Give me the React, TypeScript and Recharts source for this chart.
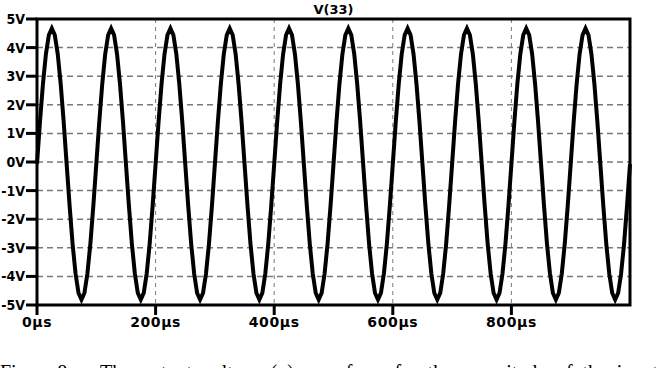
import React from 'react';
import { LineChart, Line, XAxis, YAxis, CartesianGrid, ReferenceArea } from 'recharts';

const title = 'V(33)';
const captionLead = 'Figure 8:';
const captionRest = 'The output voltage (v) waveform for the magnitude of the input';

const timeUs = [
  0, 5, 10, 15, 20, 25, 30, 35, 40, 45, 50, 55, 60, 65, 70, 75, 80, 85, 90, 95,
  100, 105, 110, 115, 120, 125, 130, 135, 140, 145, 150, 155, 160, 165, 170, 175, 180, 185, 190, 195,
  200, 205, 210, 215, 220, 225, 230, 235, 240, 245, 250, 255, 260, 265, 270, 275, 280, 285, 290, 295,
  300, 305, 310, 315, 320, 325, 330, 335, 340, 345, 350, 355, 360, 365, 370, 375, 380, 385, 390, 395,
  400, 405, 410, 415, 420, 425, 430, 435, 440, 445, 450, 455, 460, 465, 470, 475, 480, 485, 490, 495,
  500, 505, 510, 515, 520, 525, 530, 535, 540, 545, 550, 555, 560, 565, 570, 575, 580, 585, 590, 595,
  600, 605, 610, 615, 620, 625, 630, 635, 640, 645, 650, 655, 660, 665, 670, 675, 680, 685, 690, 695,
  700, 705, 710, 715, 720, 725, 730, 735, 740, 745, 750, 755, 760, 765, 770, 775, 780, 785, 790, 795,
  800, 805, 810, 815, 820, 825, 830, 835, 840, 845, 850, 855, 860, 865, 870, 875, 880, 885, 890, 895,
  900, 905, 910, 915, 920, 925, 930, 935, 940, 945, 950, 955, 960, 965, 970, 975, 980, 985, 990, 995,
  1000,
];

const voltsV = [
  -0.07, 1.40, 2.72, 3.77, 4.44, 4.67, 4.44, 3.77, 2.72, 1.40, -0.07, -1.53, -2.86, -3.90, -4.58, -4.81, -4.58, -3.90, -2.86, -1.53,
  -0.07, 1.40, 2.72, 3.77, 4.44, 4.67, 4.44, 3.77, 2.72, 1.40, -0.07, -1.53, -2.86, -3.90, -4.58, -4.81, -4.58, -3.90, -2.86, -1.53,
  -0.07, 1.40, 2.72, 3.77, 4.44, 4.67, 4.44, 3.77, 2.72, 1.40, -0.07, -1.53, -2.86, -3.90, -4.58, -4.81, -4.58, -3.90, -2.86, -1.53,
  -0.07, 1.40, 2.72, 3.77, 4.44, 4.67, 4.44, 3.77, 2.72, 1.40, -0.07, -1.53, -2.86, -3.90, -4.58, -4.81, -4.58, -3.90, -2.86, -1.53,
  -0.07, 1.40, 2.72, 3.77, 4.44, 4.67, 4.44, 3.77, 2.72, 1.40, -0.07, -1.53, -2.86, -3.90, -4.58, -4.81, -4.58, -3.90, -2.86, -1.53,
  -0.07, 1.40, 2.72, 3.77, 4.44, 4.67, 4.44, 3.77, 2.72, 1.40, -0.07, -1.53, -2.86, -3.90, -4.58, -4.81, -4.58, -3.90, -2.86, -1.53,
  -0.07, 1.40, 2.72, 3.77, 4.44, 4.67, 4.44, 3.77, 2.72, 1.40, -0.07, -1.53, -2.86, -3.90, -4.58, -4.81, -4.58, -3.90, -2.86, -1.53,
  -0.07, 1.40, 2.72, 3.77, 4.44, 4.67, 4.44, 3.77, 2.72, 1.40, -0.07, -1.53, -2.86, -3.90, -4.58, -4.81, -4.58, -3.90, -2.86, -1.53,
  -0.07, 1.40, 2.72, 3.77, 4.44, 4.67, 4.44, 3.77, 2.72, 1.40, -0.07, -1.53, -2.86, -3.90, -4.58, -4.81, -4.58, -3.90, -2.86, -1.53,
  -0.07, 1.40, 2.72, 3.77, 4.44, 4.67, 4.44, 3.77, 2.72, 1.40, -0.07, -1.53, -2.86, -3.90, -4.58, -4.81, -4.58, -3.90, -2.86, -1.53,
  -0.07,
];

const xTicks = [0, 200, 400, 600, 800];
const yTicks = [-5, -4, -3, -2, -1, 0, 1, 2, 3, 4, 5];

const data = timeUs.map((t, i) => ({ t, v: voltsV[i] }));

const xTickFont = {
  fontFamily: "'DejaVu Sans', sans-serif",
  fontWeight: 'bold' as const,
  fontSize: 14,
  fill: '#000',
  letterSpacing: 0.6,
};

const yTickFont = {
  fontFamily: "'DejaVu Sans Condensed', 'DejaVu Sans', sans-serif",
  fontWeight: 'bold' as const,
  fontSize: 14,
  fill: '#000',
  fontStretch: 'condensed' as const,
};

export default function App() {
  return (
    <div
      style={{
        position: 'absolute',
        left: 0,
        top: 0,
        width: 658,
        height: 368,
        overflow: 'hidden',
        background: '#fff',
      }}
    >
      <div
        style={{
          position: 'absolute',
          left: 233.5,
          top: 1.5,
          width: 200,
          textAlign: 'center',
          fontFamily: "'DejaVu Sans', sans-serif",
          fontWeight: 'bold',
          fontSize: 13,
          lineHeight: '16px',
          color: '#000',
        }}
      >
        {title}
      </div>
      <div style={{ position: 'absolute', left: 0, top: 0 }}>
        <LineChart
          width={658}
          height={340}
          data={data}
          margin={{ top: 19, right: 28, bottom: 0, left: 0 }}
        >
          <CartesianGrid
            horizontal={true}
            vertical={false}
            stroke="#7a7a7a"
            strokeDasharray="6 4"
            strokeWidth={1.5}
          />
          <CartesianGrid
            horizontal={false}
            vertical={true}
            stroke="#7a7a7a"
            strokeDasharray="4 4"
            strokeWidth={1}
          />
          <XAxis
            dataKey="t"
            type="number"
            domain={[0, 1000]}
            ticks={xTicks}
            interval={0}
            tickFormatter={(v: number) => `${v}µs`}
            axisLine={false}
            tickLine={{ stroke: '#000', strokeWidth: 3 }}
            tickSize={10}
            tickMargin={2}
            tick={xTickFont}
            height={35}
          />
          <YAxis
            type="number"
            domain={[-5, 5]}
            ticks={yTicks}
            interval={0}
            tickFormatter={(v: number) => `${v}V`}
            axisLine={false}
            tickLine={{ stroke: '#000', strokeWidth: 3 }}
            tickSize={11}
            tickMargin={1}
            tick={yTickFont}
            width={37}
          />
          <Line
            dataKey="v"
            type="linear"
            stroke="#000"
            strokeWidth={4}
            dot={false}
            isAnimationActive={false}
          />
          <ReferenceArea
            x1={0}
            x2={1000}
            y1={-5}
            y2={5}
            fill="none"
            fillOpacity={0}
            stroke="#000"
            strokeWidth={3}
            ifOverflow="visible"
          />
        </LineChart>
      </div>
      <div
        style={{
          position: 'absolute',
          left: 0,
          top: 361.5,
          fontFamily: "'Liberation Serif', serif",
          fontSize: 20,
          lineHeight: '20px',
          whiteSpace: 'nowrap',
          color: '#000',
        }}
      >
        {captionLead}
      </div>
      <div
        style={{
          position: 'absolute',
          left: 100,
          top: 361.5,
          fontFamily: "'Liberation Serif', serif",
          fontSize: 20,
          lineHeight: '20px',
          wordSpacing: 4.8,
          whiteSpace: 'nowrap',
          color: '#000',
        }}
      >
        {captionRest}
      </div>
    </div>
  );
}
